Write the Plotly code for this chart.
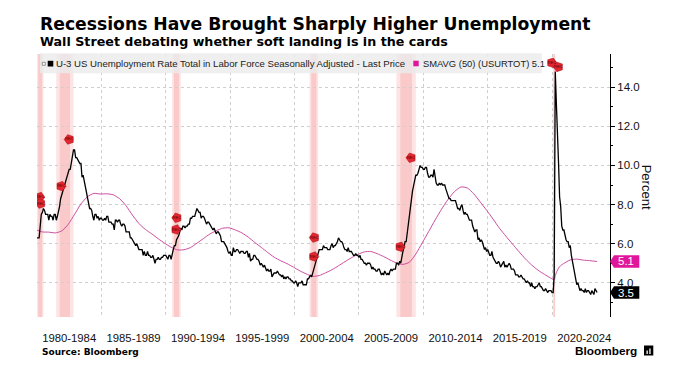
import pandas as pd
import plotly.graph_objects as go

# ---------------- data ----------------
# U-3 unemployment rate, monthly, Jan 1980 - Jul 2023 (percent)
unemployment = [
    6.3, 6.3, 6.3, 6.9, 7.5, 7.6, 7.8, 7.7, 7.5, 7.5, 7.5, 7.2,   # 1980
    7.5, 7.4, 7.4, 7.2, 7.5, 7.5, 7.2, 7.4, 7.6, 7.9, 8.3, 8.5,   # 1981
    8.6, 8.9, 9.0, 9.3, 9.4, 9.6, 9.8, 9.8, 10.1, 10.4, 10.8, 10.8,  # 1982
    10.4, 10.4, 10.3, 10.2, 10.1, 10.1, 9.4, 9.5, 9.2, 8.8, 8.5, 8.3,  # 1983
    8.0, 7.8, 7.8, 7.7, 7.4, 7.2, 7.5, 7.5, 7.3, 7.4, 7.2, 7.3,   # 1984
    7.3, 7.2, 7.2, 7.3, 7.2, 7.4, 7.4, 7.1, 7.1, 7.1, 7.0, 7.0,   # 1985
    6.7, 7.2, 7.2, 7.1, 7.2, 7.2, 7.0, 6.9, 7.0, 7.0, 6.9, 6.6,   # 1986
    6.6, 6.6, 6.6, 6.3, 6.3, 6.2, 6.1, 6.0, 5.9, 6.0, 5.8, 5.7,   # 1987
    5.7, 5.7, 5.7, 5.4, 5.6, 5.4, 5.4, 5.6, 5.4, 5.4, 5.3, 5.3,   # 1988
    5.4, 5.2, 5.0, 5.2, 5.2, 5.3, 5.2, 5.2, 5.3, 5.3, 5.4, 5.4,   # 1989
    5.4, 5.3, 5.2, 5.4, 5.4, 5.2, 5.5, 5.7, 5.9, 5.9, 6.2, 6.3,   # 1990
    6.4, 6.6, 6.8, 6.7, 6.9, 6.9, 6.8, 6.9, 6.9, 7.0, 7.0, 7.3,   # 1991
    7.3, 7.4, 7.4, 7.4, 7.6, 7.8, 7.7, 7.6, 7.6, 7.3, 7.4, 7.4,   # 1992
    7.3, 7.1, 7.0, 7.1, 7.1, 7.0, 6.9, 6.8, 6.7, 6.8, 6.6, 6.5,   # 1993
    6.6, 6.6, 6.5, 6.4, 6.1, 6.1, 6.1, 6.0, 5.9, 5.8, 5.6, 5.5,   # 1994
    5.6, 5.4, 5.4, 5.8, 5.6, 5.6, 5.7, 5.7, 5.6, 5.5, 5.6, 5.6,   # 1995
    5.6, 5.5, 5.5, 5.6, 5.6, 5.3, 5.5, 5.1, 5.2, 5.2, 5.4, 5.4,   # 1996
    5.3, 5.2, 5.2, 5.1, 4.9, 5.0, 4.9, 4.8, 4.9, 4.7, 4.6, 4.7,   # 1997
    4.6, 4.6, 4.7, 4.3, 4.4, 4.5, 4.5, 4.5, 4.6, 4.5, 4.4, 4.4,   # 1998
    4.3, 4.4, 4.2, 4.3, 4.2, 4.3, 4.3, 4.2, 4.2, 4.1, 4.1, 4.0,   # 1999
    4.0, 4.1, 4.0, 3.8, 4.0, 4.0, 4.0, 4.1, 3.9, 3.9, 3.9, 3.9,   # 2000
    4.2, 4.2, 4.3, 4.4, 4.3, 4.5, 4.6, 4.9, 5.0, 5.3, 5.5, 5.7,   # 2001
    5.7, 5.7, 5.7, 5.9, 5.8, 5.8, 5.8, 5.7, 5.7, 5.7, 5.9, 6.0,   # 2002
    5.8, 5.9, 5.9, 6.0, 6.1, 6.3, 6.2, 6.1, 6.1, 6.0, 5.8, 5.7,   # 2003
    5.7, 5.6, 5.8, 5.6, 5.6, 5.6, 5.5, 5.4, 5.4, 5.5, 5.4, 5.4,   # 2004
    5.3, 5.4, 5.2, 5.2, 5.1, 5.0, 5.0, 4.9, 5.0, 5.0, 5.0, 4.9,   # 2005
    4.7, 4.8, 4.7, 4.7, 4.6, 4.6, 4.7, 4.7, 4.5, 4.4, 4.5, 4.4,   # 2006
    4.6, 4.5, 4.4, 4.5, 4.4, 4.6, 4.7, 4.6, 4.7, 4.7, 4.7, 5.0,   # 2007
    5.0, 4.9, 5.1, 5.0, 5.4, 5.6, 5.8, 6.1, 6.1, 6.5, 6.8, 7.3,   # 2008
    7.8, 8.3, 8.7, 9.0, 9.4, 9.5, 9.5, 9.6, 9.8, 10.0, 9.9, 9.9,  # 2009
    9.8, 9.8, 9.9, 9.9, 9.6, 9.4, 9.4, 9.5, 9.5, 9.4, 9.8, 9.3,   # 2010
    9.1, 9.0, 9.0, 9.1, 9.0, 9.1, 9.0, 9.0, 9.0, 8.8, 8.6, 8.5,   # 2011
    8.3, 8.3, 8.2, 8.2, 8.2, 8.2, 8.2, 8.0, 7.8, 7.8, 7.7, 7.9,   # 2012
    8.0, 7.7, 7.5, 7.6, 7.5, 7.5, 7.3, 7.2, 7.2, 7.2, 6.9, 6.7,   # 2013
    6.6, 6.7, 6.7, 6.2, 6.3, 6.1, 6.2, 6.1, 5.9, 5.7, 5.8, 5.6,   # 2014
    5.7, 5.5, 5.4, 5.4, 5.6, 5.3, 5.2, 5.1, 5.0, 5.0, 5.1, 5.0,   # 2015
    4.8, 4.9, 5.0, 5.1, 4.8, 4.9, 4.8, 4.9, 5.0, 4.9, 4.7, 4.7,   # 2016
    4.7, 4.6, 4.4, 4.4, 4.4, 4.3, 4.3, 4.4, 4.3, 4.2, 4.2, 4.1,   # 2017
    4.0, 4.1, 4.0, 4.0, 3.8, 4.0, 3.8, 3.8, 3.7, 3.8, 3.8, 3.9,   # 2018
    4.0, 3.8, 3.8, 3.7, 3.6, 3.6, 3.7, 3.6, 3.5, 3.6, 3.6, 3.6,   # 2019
    3.5, 3.5, 4.4, 14.8, 13.2, 11.0, 10.2, 8.4, 7.9, 6.9, 6.7, 6.7,  # 2020
    6.4, 6.2, 6.1, 6.1, 5.8, 5.9, 5.4, 5.1, 4.7, 4.5, 4.2, 3.9,   # 2021
    4.0, 3.8, 3.6, 3.7, 3.6, 3.6, 3.5, 3.7, 3.5, 3.6, 3.6, 3.5,   # 2022
    3.4, 3.6, 3.5, 3.4, 3.7, 3.6, 3.5,                            # 2023
]
series_start = "1980-01-01"

# 50-month simple moving average (SMAVG 50)
sma_dates = [
    "1980-01", "1980-06", "1980-12", "1981-06", "1981-12", "1982-06", "1982-12",
    "1983-06", "1983-12", "1984-06", "1984-12", "1985-06", "1985-12", "1986-06",
    "1986-12", "1987-06", "1987-12", "1988-06", "1988-12", "1989-06", "1989-12",
    "1990-06", "1990-12", "1991-06", "1991-12", "1992-06", "1992-12", "1993-06",
    "1993-12", "1994-06", "1994-12", "1995-06", "1995-12", "1996-06", "1996-12",
    "1997-06", "1997-12", "1998-06", "1998-12", "1999-06", "1999-12", "2000-06",
    "2000-12", "2001-06", "2001-12", "2002-06", "2002-12", "2003-06", "2003-12",
    "2004-06", "2004-12", "2005-06", "2005-12", "2006-06", "2006-12", "2007-06",
    "2007-12", "2008-06", "2008-12", "2009-06", "2009-12", "2010-06", "2010-12",
    "2011-06", "2011-12", "2012-06", "2012-12", "2013-06", "2013-12", "2014-06",
    "2014-12", "2015-06", "2015-12", "2016-06", "2016-12", "2017-06", "2017-12",
    "2018-06", "2018-12", "2019-06", "2019-12", "2020-03", "2020-04", "2020-05",
    "2020-06", "2020-07", "2020-09", "2020-12", "2021-06", "2021-12", "2022-06",
    "2022-12", "2023-07",
]
sma_values = [
    6.69, 6.60, 6.59, 6.55, 6.65, 6.98, 7.50,
    8.03, 8.40, 8.57, 8.54, 8.55, 8.50, 8.30,
    7.94, 7.46, 7.03, 6.73, 6.50, 6.25, 6.02,
    5.82, 5.68, 5.69, 5.80, 6.02, 6.26, 6.49,
    6.66, 6.79, 6.81, 6.70, 6.55, 6.33, 6.06,
    5.81, 5.55, 5.31, 5.13, 4.98, 4.80, 4.61,
    4.45, 4.33, 4.37, 4.51, 4.67, 4.87, 5.08,
    5.28, 5.45, 5.58, 5.60, 5.49, 5.34, 5.17,
    5.01, 4.94, 5.05, 5.47, 6.04, 6.62, 7.21,
    7.76, 8.26, 8.66, 8.90, 8.85, 8.55, 8.14,
    7.71, 7.26, 6.79, 6.38, 5.99, 5.60, 5.23,
    4.91, 4.64, 4.43, 4.23, 4.16, 4.36, 4.52,
    4.64, 4.75, 4.88, 4.99, 5.17, 5.21, 5.16,
    5.13, 5.09,
]

# NBER recessions (start, end)
recession_starts = ["1980-01-01", "1981-07-01", "1990-07-01", "2001-03-01", "2007-12-01", "2020-02-01"]
recession_ends = ["1980-07-01", "1982-11-01", "1991-03-01", "2001-11-01", "2009-06-01", "2020-04-01"]

# "REC" event tags as placed on the chart (date, value, 1 = start, -1 = end)
tag_dates = ["1980-03-20", "1980-04-10", "1981-11-15", "1982-07-01", "1990-10-20", "1990-11-10",
             "2001-07-01", "2001-07-15", "2008-03-15", "2009-01-15", "2019-12-25", "2020-06-25"]
tag_values = [8.38, 8.05, 8.94, 11.33, 6.72, 7.32, 5.34, 6.31, 5.84, 10.39, 15.25, 15.04]
tag_kind = [1, -1, 1, -1, 1, -1, 1, -1, 1, -1, 1, -1]

period_centers = ["1982-07-01", "1987-07-01", "1992-07-01", "1997-07-01", "2002-07-01",
                  "2007-07-01", "2012-07-01", "2017-07-01", "2022-07-01"]
period_labels = ["1980-1984", "1985-1989", "1990-1994", "1995-1999", "2000-2004",
                 "2005-2009", "2010-2014", "2015-2019", "2020-2024"]
period_bounds = ["1985-01-01", "1990-01-01", "1995-01-01", "2000-01-01",
                 "2005-01-01", "2010-01-01", "2015-01-01", "2020-01-01"]
y_ticks = [4, 6, 8, 10, 12, 14]
y_minor = [3, 5, 7, 9, 11, 13, 15]

# ---------------- layout geometry ----------------
W, H = 678, 381
ML, MR, MT, MB = 37, 68, 54, 64
PW, PH = W - ML - MR, H - MT - MB
Y0, Y1 = 2.25, 15.7


def px(x):
    return (x - ML) / PW


def py(y):
    return (H - MB - y) / PH


SANS = "Liberation Sans, Arial, sans-serif"
BOLD = "DejaVu Sans, Verdana, sans-serif"
MAGENTA = "#e0179a"
SMA_COLOR = "#cc4c9f"

dates = pd.date_range(series_start, periods=len(unemployment), freq="MS")
sma_x = pd.to_datetime(sma_dates)

fig = go.Figure()

fig.add_trace(go.Scatter(
    x=sma_x, y=sma_values, mode="lines",
    line=dict(color=SMA_COLOR, width=1, shape="spline", smoothing=0.6),
    hoverinfo="skip", showlegend=False,
))
fig.add_trace(go.Scatter(
    x=dates, y=unemployment, mode="lines",
    line=dict(color="#000000", width=1.3),
    hoverinfo="skip", showlegend=False,
))
fig.add_trace(go.Scatter(
    x=pd.to_datetime(tag_dates), y=tag_values, mode="markers+text",
    marker=dict(symbol="pentagon", size=10, color="#e3262f",
                angle=[90 if k > 0 else -90 for k in tag_kind],
                line=dict(color="#b0141c", width=0.6)),
    text=["REC"] * len(tag_dates), textposition="middle center",
    textfont=dict(size=4, color="#5a0000", family=SANS),
    hoverinfo="skip", showlegend=False,
))

fig.update_layout(
    width=W, height=H,
    margin=dict(l=ML, r=MR, t=MT, b=MB, pad=0),
    paper_bgcolor="white", plot_bgcolor="white",
    showlegend=False,
    xaxis=dict(
        type="date", range=["1980-01-01", "2024-07-01"],
        tickmode="array", tickvals=period_centers, ticktext=period_labels,
        showgrid=False, zeroline=False, showline=False, ticks="",
        tickfont=dict(family=SANS, size=11.3, color="#111"),
        ticklabelstandoff=13,
        minor=dict(tickmode="array", tickvals=period_bounds, showgrid=True,
                   gridcolor="#cfcfcf", griddash="dot", gridwidth=1, ticks=""),
    ),
    yaxis=dict(
        side="right", range=[Y0, Y1],
        tickmode="array", tickvals=y_ticks, tickformat=".1f",
        showgrid=True, gridcolor="#cfcfcf", griddash="dot", gridwidth=1,
        zeroline=False, showline=True, linecolor="#000", linewidth=1,
        ticks="outside", ticklen=4, tickcolor="#000", tickwidth=1,
        tickfont=dict(family=SANS, size=11.5, color="#111"),
        minor=dict(tickmode="array", tickvals=y_minor, ticks="outside",
                   ticklen=2, tickcolor="#000", showgrid=False),
    ),
)

shapes = []
# recession bands (soft gradient: light outer, darker inner)
for s, e in zip(recession_starts, recession_ends):
    s_t, e_t = pd.Timestamp(s), pd.Timestamp(e)
    d = e_t - s_t
    shapes.append(dict(type="rect", xref="x", yref="paper", x0=s_t, x1=e_t, y0=0, y1=1,
                       fillcolor="#fde3e3", line=dict(width=0), layer="below"))
    shapes.append(dict(type="rect", xref="x", yref="paper", x0=s_t + d * 0.2, x1=e_t - d * 0.2,
                       y0=0, y1=1, fillcolor="#facaca", line=dict(width=0), layer="below"))
# legend box
shapes.append(dict(type="rect", xref="paper", yref="paper", x0=px(40), x1=px(541.7),
                   y0=py(73.3), y1=py(53.3), fillcolor="rgba(236,236,236,0.82)",
                   line=dict(width=0), layer="above"))
shapes.append(dict(type="rect", xref="paper", yref="paper", x0=px(42.3), x1=px(45.3),
                   y0=py(65.3), y1=py(62.3), fillcolor="white",
                   line=dict(width=0.8, color="#777"), layer="above"))
shapes.append(dict(type="rect", xref="paper", yref="paper", x0=px(47.7), x1=px(53.3),
                   y0=py(66.5), y1=py(60.8), fillcolor="#000",
                   line=dict(width=0), layer="above"))
shapes.append(dict(type="rect", xref="paper", yref="paper", x0=px(413.3), x1=px(418.7),
                   y0=py(66.3), y1=py(60.7), fillcolor=MAGENTA,
                   line=dict(width=0), layer="above"))

# right-side value tags
unit_px = PH / (Y1 - Y0)
half = 6.2 / unit_px
for val, col in [(sma_values[-1], MAGENTA), (unemployment[-1], "#000")]:
    x_tip, x_base, x_end = px(610), px(614), px(639.3)
    shapes.append(dict(type="path", xref="paper", yref="y",
                       path=f"M {x_tip},{val} L {x_base},{val + half} L {x_end},{val + half} "
                            f"L {x_end},{val - half} L {x_base},{val - half} Z",
                       fillcolor=col, line=dict(width=0), layer="above"))

# Bloomberg logo icon
shapes.append(dict(type="rect", xref="paper", yref="paper", x0=px(644), x1=px(653.3),
                   y0=py(355.5), y1=py(345.5), fillcolor="#000", line=dict(width=0)))
for bx0, bx1, top in [(646.5, 647.8, 350.5), (649.3, 650.6, 348.5)]:
    shapes.append(dict(type="rect", xref="paper", yref="paper", x0=px(bx0), x1=px(bx1),
                       y0=py(354), y1=py(top), fillcolor="#fff", line=dict(width=0)))
fig.update_layout(shapes=shapes)

ann = []
ann.append(dict(text="<b>Recessions Have Brought Sharply Higher Unemployment</b>",
                xref="paper", yref="paper", x=px(37.5), y=py(24), xanchor="left", yanchor="middle",
                showarrow=False, font=dict(family=BOLD, size=17.2, color="#000")))
ann.append(dict(text="<b>Wall Street debating whether soft landing is in the cards</b>",
                xref="paper", yref="paper", x=px(37.5), y=py(41.5), xanchor="left", yanchor="middle",
                showarrow=False, font=dict(family=BOLD, size=12.7, color="#000")))
ann.append(dict(text="U-3 US Unemployment Rate Total in Labor Force Seasonally Adjusted - Last Price",
                xref="paper", yref="paper", x=px(54.3), y=py(63.5), xanchor="left", yanchor="middle",
                showarrow=False, font=dict(family=SANS, size=9.6, color="#222")))
ann.append(dict(text=f"SMAVG (50) (USURTOT) {sma_values[-1]:.1f}",
                xref="paper", yref="paper", x=px(420.7), y=py(63.5), xanchor="left", yanchor="middle",
                showarrow=False, font=dict(family=SANS, size=9.4, color="#222")))
ann.append(dict(text="Percent", xref="paper", yref="paper", x=px(646), y=py(186.7),
                xanchor="center", yanchor="middle", textangle=90, showarrow=False,
                font=dict(family=SANS, size=13, color="#111")))
for val in [sma_values[-1], unemployment[-1]]:
    ann.append(dict(text=f"{val:.1f}", xref="paper", yref="y", x=px(615.5), y=val,
                    xanchor="left", yanchor="middle", showarrow=False,
                    font=dict(family=SANS, size=11.5, color="#fff")))
ann.append(dict(text="<b>Source: Bloomberg</b>", xref="paper", yref="paper", x=px(39.5), y=py(351.7),
                xanchor="left", yanchor="middle", showarrow=False,
                font=dict(family=BOLD, size=9, color="#000")))
ann.append(dict(text="<b>Bloomberg</b>", xref="paper", yref="paper", x=px(638.5), y=py(350.7),
                xanchor="right", yanchor="middle", showarrow=False,
                font=dict(family=SANS, size=11.8, color="#000")))
fig.update_layout(annotations=ann)

fig.write_html("out.html", config={"displayModeBar": False},
               post_script="document.body.style.margin='0';document.body.style.overflow='hidden';")
